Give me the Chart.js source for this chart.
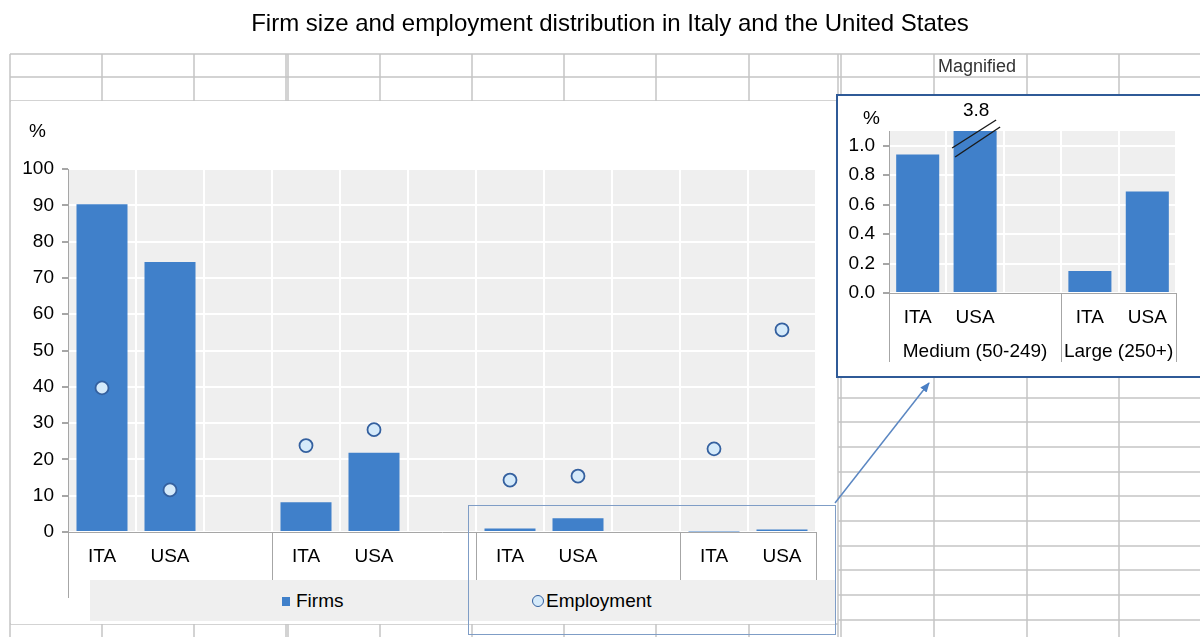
<!DOCTYPE html>
<html>
<head>
<meta charset="utf-8">
<title>Firm size and employment distribution</title>
<script src="https://cdn.jsdelivr.net/npm/chart.js@4.4.1/dist/chart.umd.min.js"></script>
<style>
  body { margin: 0; width: 1200px; height: 637px; overflow: hidden; background: #fff; position: relative;
         font-family: "Liberation Sans", Arial, sans-serif; color: #000; }
  .abs { position: absolute; }
  #title { left: 0; top: 9px; width: 1220px; text-align: center; font-size: 24px; }
  #mainBox { left: 11px; top: 101px; width: 825px; height: 523px; background: #fff; }
  #legend { left: 90px; top: 580px; width: 745px; height: 41px; background: #efefef; font-size: 19px; }
  #insetBox { left: 836px; top: 94px; width: 372px; height: 284px; background: #fff;
              border: 2px solid #2f5a97; box-sizing: border-box; }
  .unit { font-size: 19px; }
  #magnified { left: 938px; top: 55px; font-size: 18px; color: #333; line-height: 23px; }
  #selection { left: 468px; top: 505px; width: 366px; height: 128px; border: 1.5px solid #7f9dc6; }
</style>
</head>
<body>
<canvas id="sheet" class="abs" width="1200" height="637" style="left:0;top:0"></canvas>
<div id="title" class="abs">Firm size and employment distribution in Italy and the United States</div>
<div id="magnified" class="abs">Magnified</div>

<div id="mainBox" class="abs"></div>
<canvas id="mainChart" class="abs" width="828" height="523" style="left:10px;top:101px"></canvas>
<div class="abs unit" style="left:29px;top:120px">%</div>
<div id="legend" class="abs"></div>

<div id="insetBox" class="abs"></div>
<canvas id="insetChart" class="abs" width="362" height="280" style="left:838px;top:96px"></canvas>
<div class="abs unit" style="left:863px;top:107px">%</div>

<div id="selection" class="abs"></div>
<svg class="abs" width="1200" height="637" style="left:0;top:0">
  <defs>
    <marker id="head" markerWidth="10" markerHeight="8" refX="9" refY="4" orient="auto" markerUnits="userSpaceOnUse">
      <path d="M0,0 L10,4 L0,8 z" fill="#4a7fc4"/>
    </marker>
  </defs>
  <line x1="835" y1="503" x2="929" y2="383" stroke="#5b87c2" stroke-width="1.5" marker-end="url(#head)"/>
</svg>

<script>
// shares in percent, by firm size class: micro, small, medium, large
const countries = ['ITA', 'USA'];
const sizeClasses = ['Micro', 'Small', 'Medium (50-249)', 'Large (250+)'];
const firmsITA = [90.3, 8.2, 0.94, 0.15];
const firmsUSA = [74.4, 21.8, 3.8, 0.69];
const employmentITA = [39.7, 23.8, 14.3, 22.9];
const employmentUSA = [11.6, 28.2, 15.4, 55.7];

const seriesNames = ['Firms', 'Employment'];
const barColor = '#4080ca';
const pointFill = '#d5eafa';
const pointEdge = '#34609f';
const font = '"Liberation Sans", Arial, sans-serif';

// spreadsheet cells behind the charts
const sheet = document.getElementById('sheet').getContext('2d');
sheet.strokeStyle = '#c4c4c4';
sheet.lineWidth = 1.5;
const colLines = [10, 102, 194, 286, 288, 380, 472, 564, 656, 749, 838, 841, 934, 1027, 1119];
const rightRows = [398, 422, 447, 472, 496, 521, 546, 570, 595, 620];
colLines.forEach(x => {
  sheet.beginPath(); sheet.moveTo(x, 54); sheet.lineTo(x, 637); sheet.stroke();
});
[54, 77, 101].forEach(y => {
  sheet.beginPath(); sheet.moveTo(10, y); sheet.lineTo(1200, y); sheet.stroke();
});
sheet.beginPath(); sheet.moveTo(10, 624); sheet.lineTo(838, 624); sheet.stroke();
rightRows.forEach(y => {
  sheet.beginPath(); sheet.moveTo(838, y); sheet.lineTo(1200, y); sheet.stroke();
});

// columns: ITA, USA, then an empty spacer between size classes
function buildColumns(groups, a, b) {
  const labels = [], values = [];
  groups.forEach((g, i) => {
    labels.push(countries[0], countries[1]);
    values.push(a[g], b[g]);
    if (i < groups.length - 1) { labels.push(''); values.push(null); }
  });
  return { labels, values };
}

const mainFirms = buildColumns([0, 1, 2, 3], firmsITA, firmsUSA);
const mainEmp = buildColumns([0, 1, 2, 3], employmentITA, employmentUSA);
const insetFirms = buildColumns([2, 3], firmsITA, firmsUSA);

function edgeX(scale, i) {
  const w = scale.getPixelForValue(1) - scale.getPixelForValue(0);
  return scale.getPixelForValue(i) + w / 2;
}

const plotBackground = {
  id: 'plotBackground',
  beforeDraw(chart) {
    const a = chart.chartArea, c = chart.ctx;
    c.save();
    c.fillStyle = '#efefef';
    c.fillRect(a.left, a.top, a.right - a.left, a.bottom - a.top);
    c.restore();
  }
};

// vertical separators between size classes below the x axis
function groupSeparators(edges, depth, groupLabels, labelOffset) {
  return {
    id: 'groupSeparators',
    afterDraw(chart) {
      const x = chart.scales.x, a = chart.chartArea, c = chart.ctx;
      c.save();
      c.strokeStyle = '#a6a6a6';
      c.lineWidth = 1;
      edges.forEach(i => {
        const px = Math.round(edgeX(x, i)) + 0.5;
        c.beginPath(); c.moveTo(px, a.bottom); c.lineTo(px, a.bottom + depth); c.stroke();
      });
      if (groupLabels) {
        c.fillStyle = '#000';
        c.font = '19px ' + font;
        c.textAlign = 'center';
        c.textBaseline = 'middle';
        groupLabels.forEach((t, k) => {
          const mid = (edgeX(x, edges[k]) + edgeX(x, edges[k + 1])) / 2;
          c.fillText(t, mid, a.bottom + labelOffset);
        });
      }
      c.restore();
    }
  };
}

// bars taller than the axis get their value and a break mark
const brokenBars = {
  id: 'brokenBars',
  afterDatasetsDraw(chart) {
    const y = chart.scales.y, a = chart.chartArea, c = chart.ctx;
    const ds = chart.data.datasets[0];
    chart.getDatasetMeta(0).data.forEach((bar, i) => {
      const v = ds.data[i];
      if (v == null || v <= y.max) return;
      c.save();
      c.fillStyle = '#000';
      c.font = '19px ' + font;
      c.textAlign = 'center';
      c.textBaseline = 'middle';
      c.fillText(v.toFixed(1), bar.x + 1, a.top - 20);
      c.strokeStyle = '#1a1a1a';
      c.lineWidth = 1.4;
      c.beginPath(); c.moveTo(bar.x - 23, a.top + 17); c.lineTo(bar.x + 21, a.top - 11); c.stroke();
      c.beginPath(); c.moveTo(bar.x - 20, a.top + 26); c.lineTo(bar.x + 25, a.top - 4); c.stroke();
      c.restore();
    });
  }
};

function axes(yMax, yStep, yWidth, xHeight, yCallback, tickColor) {
  return {
    x: {
      offset: true,
      grid: { color: '#fff', lineWidth: 2, drawTicks: false, offset: true },
      border: { color: '#a6a6a6' },
      ticks: { color: '#000', font: { family: font, size: 19 }, padding: 13, autoSkip: false, maxRotation: 0 },
      afterFit(s) { s.height = xHeight; }
    },
    y: {
      min: 0, max: yMax,
      grid: { color: '#fff', lineWidth: 2, tickLength: 6, tickColor: tickColor },
      border: { color: '#a6a6a6' },
      ticks: { stepSize: yStep, color: '#000', font: { family: font, size: 19 }, padding: 8, callback: yCallback },
      afterFit(s) { s.width = yWidth; }
    }
  };
}

new Chart(document.getElementById('mainChart'), {
  data: {
    labels: mainFirms.labels,
    datasets: [{
      type: 'bar',
      label: seriesNames[0],
      data: mainFirms.values,
      backgroundColor: barColor,
      barPercentage: 0.75,
      categoryPercentage: 1,
      order: 2
    }, {
      type: 'line',
      label: seriesNames[1],
      data: mainEmp.values,
      showLine: false,
      pointRadius: 6.5,
      pointBackgroundColor: pointFill,
      pointBorderColor: pointEdge,
      pointBorderWidth: 1.8,
      order: 1
    }]
  },
  options: {
    responsive: false,
    animation: false,
    layout: { padding: { top: 68, right: 22, left: 0, bottom: 0 } },
    plugins: { legend: { display: false }, tooltip: { enabled: false } },
    scales: axes(100, 10, 58, 92, v => v, '#a6a6a6')
  },
  plugins: [plotBackground, groupSeparators([-1, 2, 5, 8, 10], 66)]
});

new Chart(document.getElementById('insetChart'), {
  type: 'bar',
  data: {
    labels: insetFirms.labels,
    datasets: [{
      label: seriesNames[0],
      data: insetFirms.values,
      backgroundColor: barColor,
      barPercentage: 0.75,
      categoryPercentage: 1
    }]
  },
  options: {
    responsive: false,
    animation: false,
    layout: { padding: { top: 35, right: 24, left: 0, bottom: 0 } },
    plugins: { legend: { display: false }, tooltip: { enabled: false } },
    scales: axes(1.1, 0.1, 51, 83,
      v => (Math.round(v * 10) % 2 === 0 ? v.toFixed(1) : ''),
      ctx => (ctx.tick && Math.round(ctx.tick.value * 10) % 2 === 0 ? '#a6a6a6' : 'rgba(0,0,0,0)'))
  },
  plugins: [plotBackground, brokenBars, groupSeparators([-1, 2, 4], 69, sizeClasses.slice(2), 59)]
});

// legend strip under the main chart
const legend = document.getElementById('legend');
legend.innerHTML =
  '<span class="abs" style="left:192px;top:17px;width:8px;height:9px;background:' + barColor + '"></span>' +
  '<span class="abs" style="left:206px;top:10px">' + seriesNames[0] + '</span>' +
  '<span class="abs" style="left:442px;top:15px;width:10px;height:10px;border-radius:50%;background:' + pointFill +
  ';border:1.5px solid ' + pointEdge + '"></span>' +
  '<span class="abs" style="left:456px;top:10px">' + seriesNames[1] + '</span>';
</script>
</body>
</html>
